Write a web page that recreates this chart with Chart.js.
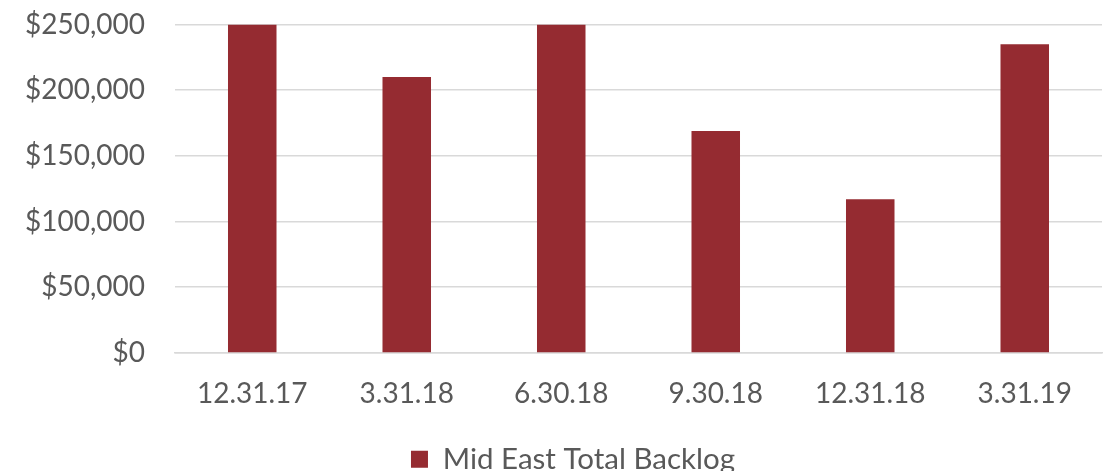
<!DOCTYPE html>
<html lang="en">
<head>
    <meta charset="UTF-8">
    <title>Mid East Total Backlog</title>
    <script src="https://cdn.jsdelivr.net/npm/chart.js@4.4.1/dist/chart.umd.min.js"></script>
    <style>
        body {
            margin: 0;
            background: #fff;
        }
        #chartBox {
            width: 1104px;
            height: 471px;
        }
    </style>
</head>
<body>
    <div id="chartBox">
        <canvas id="backlogChart" width="1104" height="471"></canvas>
    </div>

    <script>
        const quarters = ['12.31.17', '3.31.18', '6.30.18', '9.30.18', '12.31.18', '3.31.19'];
        const backlog = [250000, 210000, 250000, 169000, 117000, 235000];
        const seriesName = 'Mid East Total Backlog';

        const barColor = '#952B31';
        const textColor = '#595959';
        const gridColor = '#D9D9D9';
        const fontFamily = 'Lato, "Open Sans", sans-serif';

        function money(v) {
            return '$' + v.toLocaleString('en-US');
        }

        // nudge the legend a little right of the canvas centre
        const legendShift = {
            id: 'legendShift',
            afterLayout(chart) {
                chart.legend.left += 22;
                chart.legend.right += 22;
            }
        };

        const ctx = document.getElementById('backlogChart').getContext('2d');
        new Chart(ctx, {
            type: 'bar',
            data: {
                labels: quarters,
                datasets: [{
                    label: seriesName,
                    data: backlog,
                    backgroundColor: barColor,
                    borderWidth: 0,
                    categoryPercentage: 1,
                    barPercentage: 0.314
                }]
            },
            options: {
                responsive: false,
                animation: false,
                layout: {
                    padding: { top: 24.5, right: 2, bottom: -13, left: 0 }
                },
                plugins: {
                    tooltip: { enabled: false },
                    legend: {
                        position: 'bottom',
                        labels: {
                            boxWidth: 17,
                            boxHeight: 17,
                            padding: 10,
                            color: textColor,
                            font: { family: fontFamily, size: 29.5 }
                        }
                    }
                },
                scales: {
                    x: {
                        grid: { display: false, drawTicks: false },
                        border: { color: gridColor, width: 1.5 },
                        ticks: {
                            color: textColor,
                            padding: 24,
                            font: { family: fontFamily, size: 28 }
                        }
                    },
                    y: {
                        min: 0,
                        max: 250000,
                        afterFit: (scale) => { scale.width = 175; },
                        border: { display: false },
                        // invisible tick marks keep the labels away from the plot
                        grid: {
                            color: gridColor,
                            lineWidth: 1.5,
                            drawTicks: true,
                            tickLength: 30,
                            tickColor: 'rgba(0,0,0,0)'
                        },
                        ticks: {
                            stepSize: 50000,
                            color: textColor,
                            padding: 0,
                            font: { family: fontFamily, size: 28 },
                            callback: (v) => money(v)
                        }
                    }
                }
            },
            plugins: [legendShift]
        });
    </script>
</body>
</html>
